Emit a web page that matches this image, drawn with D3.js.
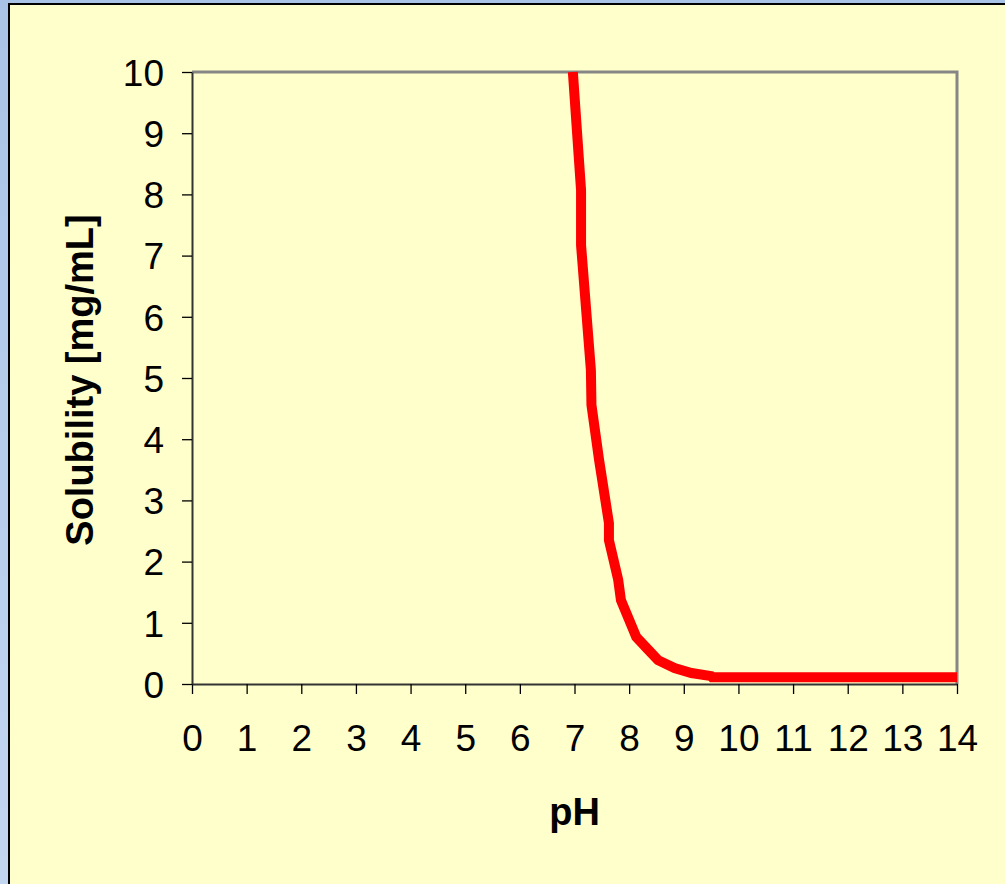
<!DOCTYPE html>
<html lang="en">
<head>
    <meta charset="UTF-8">
    <title>Solubility vs pH</title>
    <style>
        html, body { margin: 0; padding: 0; overflow: hidden; }
        body { background: linear-gradient(180deg, #a9c3e6 0%, #c3d6f0 100%); width: 1005px; height: 884px; }
        #panel { position: absolute; left: 8px; top: 3px; width: 1010px; height: 900px;
                 background: #ffffcc; border-left: 2px solid #000; border-top: 2px solid #000; }
        svg { position: absolute; left: 0; top: 0; }
        text { font-family: "Liberation Sans", Arial, sans-serif; fill: #000; }
    </style>
</head>
<body>
    <div id="panel"></div>
    <div id="chart"></div>

    <script src="https://cdn.jsdelivr.net/npm/d3@7"></script>
    <script>
        // data
        var phValues = [6.97, 7.12, 7.12, 7.30, 7.31, 7.45, 7.63, 7.63, 7.80, 7.85, 8.13, 8.35, 8.53, 8.83, 9.14, 9.50, 9.52, 10, 11, 12, 13, 14];
        var solubility = [10.0, 8.07, 7.17, 5.13, 4.56, 3.66, 2.63, 2.35, 1.70, 1.37, 0.77, 0.56, 0.39, 0.26, 0.18, 0.13, 0.11, 0.11, 0.11, 0.11, 0.11, 0.11];
        var xTicks = [0, 1, 2, 3, 4, 5, 6, 7, 8, 9, 10, 11, 12, 13, 14];
        var yTicks = [0, 1, 2, 3, 4, 5, 6, 7, 8, 9, 10];
        var xTitle = "pH";
        var yTitle = "Solubility [mg/mL]";

        var margin = {top: 72, right: 48, bottom: 200, left: 192},
            width = 1005 - margin.left - margin.right,
            height = 884 - margin.top - margin.bottom;

        var svg = d3.select("#chart")
          .append("svg")
            .attr("width", 1005)
            .attr("height", 884)
          .append("g")
            .attr("transform", "translate(" + margin.left + "," + margin.top + ")");

        var x = d3.scaleLinear().domain([0, 14]).range([0, width]);
        var y = d3.scaleLinear().domain([0, 10]).range([height, 0]);

        // gray frame on top and right
        svg.append("path")
          .attr("d", "M0,0H" + width + "V" + height)
          .attr("fill", "none")
          .attr("stroke", "#868686")
          .attr("stroke-width", 3);

        // axes
        var xAxis = svg.append("g")
          .attr("transform", "translate(0," + height + ")")
          .call(d3.axisBottom(x).tickValues(xTicks).tickSize(10).tickPadding(31).tickSizeOuter(0));
        var yAxis = svg.append("g")
          .call(d3.axisLeft(y).tickValues(yTicks).tickSize(10).tickPadding(18).tickSizeOuter(0));

        [xAxis, yAxis].forEach(function(a) {
          a.select(".domain").attr("stroke", "#333").attr("stroke-width", 2);
          a.selectAll(".tick line").attr("stroke", "#000").attr("stroke-width", 1.3);
          a.selectAll(".tick text").attr("font-size", 37).attr("font-family", "Liberation Sans, Arial, sans-serif").attr("fill", "#000");
        });
        yAxis.selectAll(".tick text").attr("dy", "0.36em");

        // axis titles
        svg.append("text")
          .attr("x", x(7))
          .attr("y", height + 141)
          .attr("text-anchor", "middle")
          .attr("font-size", 38)
          .attr("font-weight", "bold")
          .text(xTitle);

        svg.append("text")
          .attr("transform", "translate(" + (-99) + "," + (y(5) + 2) + ") rotate(-90)")
          .attr("text-anchor", "middle")
          .attr("font-size", 38)
          .attr("font-weight", "bold")
          .text(yTitle);

        // the curve
        var pts = phValues.map(function(d, i) { return [d, solubility[i]]; });
        svg.append("path")
          .datum(pts)
          .attr("fill", "none")
          .attr("stroke", "#ff0000")
          .attr("stroke-width", 10)
          .attr("stroke-linejoin", "miter")
          .attr("d", d3.line()
            .x(function(d) { return x(d[0]); })
            .y(function(d) { return y(d[1]); }));
    </script>
</body>
</html>
